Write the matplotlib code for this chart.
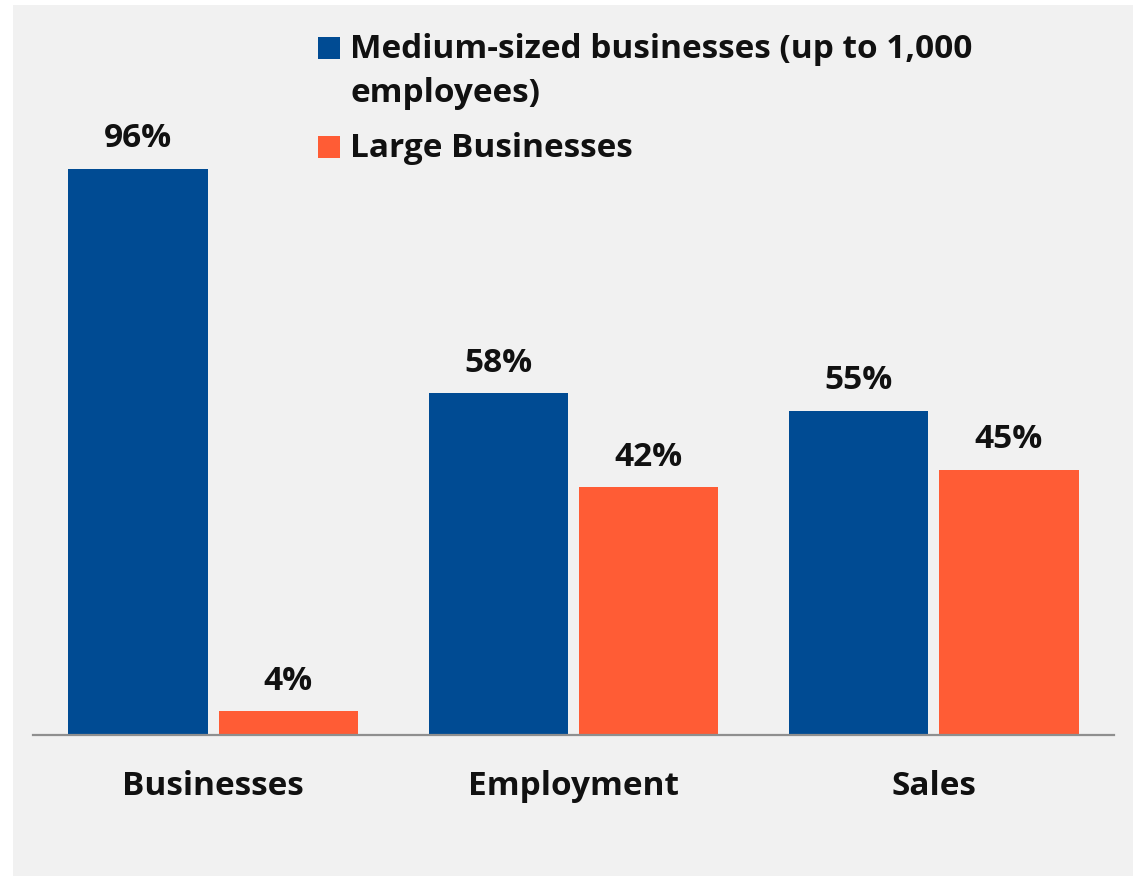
import matplotlib
matplotlib.use("Agg")
import matplotlib.pyplot as plt
import matplotlib.patches as mpatches
import numpy as np

# Share of businesses, employment and sales by firm size
CATEGORIES = ["Businesses", "Employment", "Sales"]
MEDIUM = [96, 58, 55]
LARGE = [4, 42, 45]
SERIES_LABELS = ["Medium-sized businesses (up to 1,000\nemployees)", "Large Businesses"]

BLUE = "#004B93"
ORANGE = "#FF5C35"
PANEL = "#F1F1F1"
FS = 24

W, H = 1133, 876
plt.rcParams["font.family"] = ["Open Sans", "DejaVu Sans"]
plt.rcParams["font.weight"] = "bold"

fig = plt.figure(figsize=(W / 100, H / 100), dpi=100)
fig.patch.set_facecolor("white")

# light grey panel behind everything
fig.patches.append(mpatches.Rectangle((13 / W, 0), 1 - 13 / W, 1 - 5 / H,
                                      transform=fig.transFigure, facecolor=PANEL,
                                      edgecolor="none", zorder=-5))

ax = fig.add_axes([33 / W, (H - 735) / H, (1114 - 33) / W, 589.6 / H])
ax.set_facecolor("none")

x = np.arange(len(CATEGORIES))
width = 0.387
offset = 0.2085
bars_m = ax.bar(x - offset, MEDIUM, width, color=BLUE, edgecolor="none", zorder=3)
bars_l = ax.bar(x + offset, LARGE, width, color=ORANGE, edgecolor="none", zorder=3)

# value labels above each bar
for bars, vals in ((bars_m, MEDIUM), (bars_l, LARGE)):
    for bar, v in zip(bars, vals):
        ax.annotate(f"{v}%", (bar.get_x() + bar.get_width() / 2, v),
                    xytext=(0, 15.5), textcoords="offset points",
                    ha="center", va="baseline", fontsize=FS,
                    fontweight="bold", color="#111111")

ax.set_xlim(-0.5, 2.5)
ax.set_ylim(0, 100)
ax.set_xticks(x)
ax.set_xticklabels(CATEGORIES, fontsize=FS, fontweight="bold", color="#111111")
ax.tick_params(axis="x", length=0, pad=25)
ax.set_yticks([])
for side in ("top", "left", "right"):
    ax.spines[side].set_visible(False)
ax.spines["bottom"].set_color("#8f8f8f")
ax.spines["bottom"].set_linewidth(1.6)
ax.spines["bottom"].set_zorder(4)

# legend: square swatch + wrapped label, first line aligned with the swatch
baselines = [58, 157]
line_gap = 44
for color, label, base in zip((BLUE, ORANGE), SERIES_LABELS, baselines):
    fig.patches.append(mpatches.Rectangle((318 / W, (H - base - 1) / H), 22 / W, 22 / H,
                                          transform=fig.transFigure, facecolor=color,
                                          edgecolor="none", zorder=5))
    for i, line in enumerate(label.split("\n")):
        fig.text(350 / W, (H - base - i * line_gap) / H, line, ha="left",
                 va="baseline", fontsize=FS, fontweight="bold", color="#111111")

fig.savefig("out.png", dpi=100, facecolor=fig.get_facecolor())
